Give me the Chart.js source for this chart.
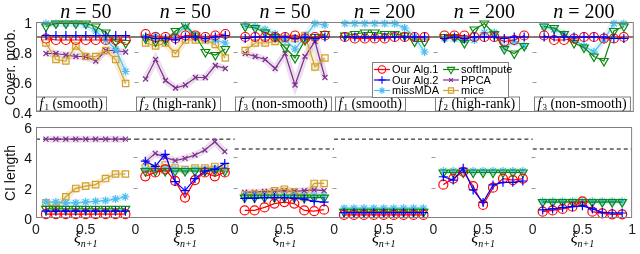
<!DOCTYPE html>
<html>
<head>
<meta charset="utf-8">
<script src="https://cdn.jsdelivr.net/npm/chart.js@4.4.1/dist/chart.umd.min.js"></script>
<style>
  body { margin: 0; background: #fff; width: 640px; height: 254px; overflow: hidden; position: relative; }
  canvas { position: absolute; left: 0; }
  #topChart { top: 0; }
  #botChart { top: 120px; }
  .ylab { position: absolute; font: 14px "Liberation Sans", Arial, sans-serif; color: #111; line-height: 16px; text-align: right; width: 30px; }
  .ytitle { position: absolute; font: 14px "Liberation Sans", Arial, sans-serif; color: #111; line-height: 16px; white-space: nowrap; transform: translate(-50%, -50%) rotate(-90deg); }
</style>
</head>
<body>
<canvas id="topChart" width="640" height="120"></canvas>
<canvas id="botChart" width="640" height="134"></canvas>
<script>
// ---- data ----
const xi = [0.1, 0.2, 0.3, 0.4, 0.5, 0.6, 0.7, 0.8, 0.9]
const sampleSizes = [50, 50, 50, 200, 200, 200]
const funcIndex = ['1', '2', '3', '1', '2', '3']
const funcNames = ['smooth', 'high-rank', 'non-smooth', 'smooth', 'high-rank', 'non-smooth']
const methodNames = ['Our Alg.1', 'Our Alg.2', 'missMDA', 'softImpute', 'PPCA', 'mice']
const nominal = 0.9
const coverTicks = [0.4, 0.6, 0.8, 1]
const lengthTicks = [0, 2, 4, 6]
const xTickLabels = ['0', '0.5', '0', '0.5', '0', '0.5', '0', '0.5', '0', '0.5', '0', '0.5', '1']

// coverage probability, one row per panel (PPCA and mice only for n = 50)
const coverAlg1 = [
  [0.89, 0.88, 0.88, 0.88, 0.88, 0.88, 0.88, 0.88, 0.88],
  [0.92, 0.90, 0.90, 0.89, 0.91, 0.91, 0.90, 0.91, 0.92],
  [0.90, 0.90, 0.90, 0.90, 0.90, 0.91, 0.89, 0.90, 0.91],
  [0.90, 0.89, 0.89, 0.89, 0.89, 0.90, 0.90, 0.90, 0.90],
  [0.91, 0.91, 0.91, 0.90, 0.90, 0.90, 0.87, 0.88, 0.91],
  [0.91, 0.88, 0.88, 0.89, 0.90, 0.90, 0.89, 0.89, 0.90]
]
const coverAlg2 = [
  [0.91, 0.91, 0.91, 0.91, 0.91, 0.91, 0.91, 0.91, 0.91],
  [0.90, 0.89, 0.89, 0.88, 0.90, 0.90, 0.89, 0.90, 0.91],
  [0.89, 0.90, 0.90, 0.90, 0.90, 0.89, 0.90, 0.89, 0.90],
  [0.90, 0.90, 0.90, 0.90, 0.90, 0.90, 0.90, 0.90, 0.90],
  [0.89, 0.90, 0.89, 0.90, 0.90, 0.90, 0.89, 0.90, 0.90],
  [0.90, 0.90, 0.90, 0.90, 0.90, 0.90, 0.90, 0.89, 0.89]
]
const coverMissMDA = [
  [0.99, 0.99, 0.99, 0.99, 0.98, 0.94, 0.88, 0.82, 0.67],
  [0.90, 0.91, 0.89, 0.91, 0.97, 0.90, 0.89, 0.88, 0.86],
  [0.98, 0.97, 0.95, 0.92, 0.88, 0.82, 0.90, 0.99, 0.98],
  [0.99, 0.99, 0.99, 0.99, 0.99, 0.99, 0.96, 0.90, 0.80],
  [0.89, 0.89, 0.88, 0.88, 0.93, 0.93, 0.83, 0.87, 0.84],
  [0.97, 0.95, 0.92, 0.88, 0.84, 0.80, 0.88, 0.99, 0.99]
]
const coverSoft = [
  [0.97, 0.99, 0.99, 0.99, 0.99, 0.97, 0.93, 0.87, 0.86],
  [0.89, 0.87, 0.88, 0.94, 0.98, 0.91, 0.80, 0.78, 0.82],
  [0.97, 0.96, 0.93, 0.90, 0.83, 0.76, 0.88, 0.90, 0.92],
  [0.91, 0.92, 0.93, 0.93, 0.92, 0.92, 0.91, 0.87, 0.87],
  [0.90, 0.90, 0.86, 0.95, 0.99, 0.92, 0.82, 0.79, 0.84],
  [0.97, 0.96, 0.92, 0.86, 0.83, 0.77, 0.74, 0.94, 0.97]
]
const coverPPCA = [
  [0.79, 0.79, 0.78, 0.77, 0.77, 0.74, 0.81, 0.81, 0.80],
  [0.62, 0.75, 0.61, 0.56, 0.58, 0.63, 0.63, 0.71, 0.69],
  [0.79, 0.77, 0.75, 0.69, 0.79, 0.58, 0.77, 0.87, 0.63]
]
const coverMice = [
  [0.86, 0.75, 0.74, 0.84, 0.77, 0.77, 0.81, 0.75, 0.59],
  [0.86, 0.84, 0.86, 0.79, 0.88, 0.88, 0.88, 0.85, 0.76],
  [0.81, 0.86, 0.86, 0.87, 0.89, 0.89, 0.91, 0.70, 0.76]
]

// CI length
const lenAlg1 = [
  [0.25, 0.25, 0.25, 0.25, 0.25, 0.25, 0.25, 0.25, 0.25],
  [2.75, 3.00, 3.20, 2.45, 1.35, 2.50, 3.00, 2.75, 3.00],
  [0.50, 0.50, 0.70, 0.95, 1.05, 0.95, 0.50, 0.45, 0.55],
  [0.20, 0.20, 0.20, 0.20, 0.20, 0.20, 0.20, 0.20, 0.20],
  [2.20, 2.60, 3.05, 2.10, 0.86, 2.00, 2.60, 2.50, 2.60],
  [0.42, 0.50, 0.60, 0.75, 1.10, 0.42, 0.30, 0.24, 0.24]
]
const lenAlg2 = [
  [0.45, 0.45, 0.45, 0.45, 0.45, 0.45, 0.45, 0.45, 0.45],
  [3.75, 3.40, 4.20, 2.40, 1.80, 2.60, 3.10, 3.20, 3.60],
  [1.30, 1.30, 1.35, 1.35, 1.35, 1.30, 1.25, 1.10, 1.05],
  [0.35, 0.35, 0.35, 0.35, 0.35, 0.35, 0.35, 0.35, 0.35],
  [2.72, 2.50, 3.28, 1.85, 1.03, 2.18, 2.35, 2.35, 2.44],
  [0.53, 0.60, 0.68, 0.75, 0.80, 0.60, 0.37, 0.33, 0.33]
]
const lenMissMDA = [
  [1.05, 1.05, 1.00, 1.00, 1.05, 1.10, 1.15, 1.25, 1.40],
  [3.20, 3.20, 3.25, 3.20, 3.15, 3.20, 3.20, 3.25, 3.20],
  [1.45, 1.45, 1.45, 1.45, 1.45, 1.45, 1.45, 1.45, 1.45],
  [0.65, 0.65, 0.65, 0.65, 0.65, 0.65, 0.65, 0.65, 0.65],
  [3.10, 3.10, 3.10, 3.10, 3.10, 3.10, 3.10, 3.10, 3.10],
  [1.10, 1.10, 1.10, 1.10, 1.10, 1.10, 1.10, 1.10, 1.10]
]
const lenSoft = [
  [0.60, 0.60, 0.60, 0.60, 0.60, 0.60, 0.60, 0.60, 0.60],
  [3.10, 3.10, 3.10, 3.10, 3.10, 3.10, 3.10, 3.10, 3.10],
  [1.35, 1.35, 1.35, 1.35, 1.35, 1.35, 1.35, 1.35, 1.35],
  [0.40, 0.40, 0.40, 0.40, 0.40, 0.40, 0.40, 0.40, 0.40],
  [3.00, 3.00, 3.00, 3.00, 3.00, 3.00, 3.00, 3.00, 3.00],
  [1.05, 1.05, 1.05, 1.05, 1.05, 1.05, 1.05, 1.05, 1.05]
]
const lenPPCA = [
  [5.20, 5.20, 5.20, 5.20, 5.20, 5.20, 5.20, 5.20, 5.20],
  [3.70, 4.26, 4.00, 3.78, 3.93, 4.15, 4.48, 5.03, 4.37],
  [1.70, 1.70, 1.75, 1.75, 1.80, 1.75, 1.80, 1.85, 1.80]
]
const lenMice = [
  [1.00, 0.65, 1.40, 1.95, 2.10, 2.20, 2.60, 2.90, 2.90],
  [3.30, 3.30, 3.50, 3.30, 3.20, 3.30, 3.30, 3.40, 3.30],
  [1.52, 1.58, 1.60, 1.80, 1.90, 1.73, 1.36, 2.28, 2.28]
]
// dashed reference length per panel
const dashRefs = [5.2, 5.2, 4.55, 5.2, 5.2, 4.55]

// ---- styles ----
const styles = {
  'Our Alg.1': { color: '#ff0000', point: 'circle', r: 4.5, rot: 0, order: 1 },
  'Our Alg.2': { color: '#0000ff', point: 'cross', r: 4.5, rot: 0, order: 0 },
  'missMDA': { color: '#4dbeee', point: 'star', r: 4, rot: 0, order: 3, band: 'rgba(77,190,238,0.18)' },
  'softImpute': { color: '#0b8a0b', point: 'triangle', r: 5, rot: 180, order: 2 },
  'PPCA': { color: '#7e2f8e', point: 'crossRot', r: 3.5, rot: 0, order: 5, band: 'rgba(126,47,142,0.15)' },
  'mice': { color: '#d4a02a', point: 'rect', r: 4.5, rot: 0, order: 4, band: 'rgba(212,160,42,0.18)' }
}
const sansFont = '"Liberation Sans", Arial, sans-serif'
const serifFont = '"Liberation Serif", "Times New Roman", serif'

function seriesData(panels) {
  const out = []
  panels.forEach((vals, p) => {
    vals.forEach((v, k) => out.push({ x: p + xi[k], y: v }))
    out.push({ x: p + 0.95, y: null })
  })
  return out
}

function buildDatasets(seriesList) {
  const sets = []
  seriesList.forEach((panels, i) => {
    const s = styles[methodNames[i]]
    const data = seriesData(panels)
    if (s.band) {
      sets.push({ data: data, borderColor: s.band, borderWidth: 7, pointRadius: 0, order: 10, clip: 10 })
    }
    sets.push({
      label: methodNames[i], data: data, borderColor: s.color, borderWidth: 1.2,
      pointStyle: s.point, pointRadius: s.r, pointRotation: s.rot,
      pointBorderColor: s.color, pointBackgroundColor: 'rgba(0,0,0,0)', pointBorderWidth: 1.2,
      order: s.order, clip: 10
    })
  })
  return sets
}

function drawMarker(ctx, s, x, y) {
  ctx.strokeStyle = s.color
  ctx.fillStyle = 'rgba(0,0,0,0)'
  ctx.lineWidth = 1.1
  Chart.helpers.drawPoint(ctx, { pointStyle: s.point, radius: s.r - 0.8, rotation: s.rot, borderWidth: 1.1 }, x, y)
}

// frame and inside ticks at panel joins
function drawFrame(chart, yTicks) {
  const { ctx, chartArea: a, scales: { x, y } } = chart
  ctx.save()
  ctx.strokeStyle = '#808080'
  ctx.lineWidth = 1
  ctx.strokeRect(a.left + 0.5, a.top + 0.5, a.right - a.left - 1, a.bottom - a.top - 1)
  ctx.strokeStyle = '#999'
  for (let p = 1; p < sampleSizes.length; p++) {
    const px = Math.round(x.getPixelForValue(p)) + 0.5
    yTicks.forEach(t => {
      const py = Math.round(y.getPixelForValue(t)) + 0.5
      if (py <= a.top + 2 || py >= a.bottom - 2) return
      ctx.beginPath(); ctx.moveTo(px - 2, py); ctx.lineTo(px + 2, py); ctx.stroke()
    })
  }
  ctx.restore()
}

// y tick labels and axis title as page text, placed with the chart's y scale
function addYAxisText(chart, offsetTop, yTicks, yTitle) {
  const a = chart.chartArea
  const y = chart.scales.y
  yTicks.forEach(t => {
    const d = document.createElement('div')
    d.className = 'ylab'
    d.textContent = String(t)
    d.style.left = (a.left - 34) + 'px'
    d.style.top = (offsetTop + y.getPixelForValue(t) - 7) + 'px'
    document.body.appendChild(d)
  })
  const ttl = document.createElement('div')
  ttl.className = 'ytitle'
  ttl.textContent = yTitle
  ttl.style.left = '10px'
  ttl.style.top = (offsetTop + (a.top + a.bottom) / 2) + 'px'
  document.body.appendChild(ttl)
}

const topDecor = {
  id: 'topDecor',
  afterDatasetsDraw(chart) {
    drawFrame(chart, coverTicks)
  },
  afterDraw(chart) {
    const { ctx, chartArea: a, scales: { x } } = chart
    ctx.save()
    ctx.fillStyle = '#000'
    ctx.textBaseline = 'alphabetic'
    // panel titles
    sampleSizes.forEach((n, p) => {
      const cx = x.getPixelForValue(p + 0.5)
      ctx.font = 'italic 20px ' + serifFont
      const w1 = ctx.measureText('n').width
      ctx.font = '20px ' + serifFont
      const rest = ' = ' + n
      const w2 = ctx.measureText(rest).width
      const left = cx - (w1 + w2) / 2
      ctx.font = 'italic 20px ' + serifFont
      ctx.textAlign = 'left'
      ctx.fillText('n', left, 18)
      ctx.font = '20px ' + serifFont
      ctx.fillText(rest, left + w1, 18)
    })
    // function boxes
    sampleSizes.forEach((n, p) => {
      const left = Math.round(x.getPixelForValue(p)) + 0.5
      ctx.font = 'italic 14px ' + serifFont
      const wf = ctx.measureText('f').width + 1
      ctx.font = '9px ' + serifFont
      const ws = ctx.measureText(funcIndex[p]).width
      ctx.font = '14px ' + serifFont
      const txt = ' (' + funcNames[p] + ')'
      const wt = ctx.measureText(txt).width
      const w = Math.round(wf + ws + wt + 7)
      ctx.fillStyle = '#fff'
      ctx.fillRect(left, a.bottom - 15, w, 14)
      ctx.strokeStyle = '#808080'
      ctx.lineWidth = 1
      ctx.strokeRect(left, a.bottom - 15, w, 14)
      ctx.fillStyle = '#000'
      ctx.textAlign = 'left'
      ctx.font = 'italic 14px ' + serifFont
      ctx.fillText('f', left + 3, a.bottom - 4)
      ctx.font = '9px ' + serifFont
      ctx.fillText(funcIndex[p], left + 3 + wf, a.bottom - 2)
      ctx.font = '14px ' + serifFont
      ctx.fillText(txt, left + 3 + wf + ws, a.bottom - 4)
    })
    // legend
    const lx = 372, ly = 62, lw = 136, lh = 35
    ctx.fillStyle = '#fff'
    ctx.fillRect(lx + 0.5, ly + 0.5, lw, lh)
    ctx.strokeStyle = '#808080'
    ctx.strokeRect(lx + 0.5, ly + 0.5, lw, lh)
    ctx.font = '11px ' + sansFont
    ctx.textBaseline = 'middle'
    methodNames.forEach((name, i) => {
      const col = Math.floor(i / 3), row = i % 3
      const x0 = lx + 2 + col * 69
      const y0 = ly + 7.5 + row * 10.5
      const s = styles[name]
      ctx.strokeStyle = s.color
      ctx.lineWidth = 1.2
      ctx.beginPath(); ctx.moveTo(x0, y0); ctx.lineTo(x0 + 16, y0); ctx.stroke()
      drawMarker(ctx, s, x0 + 8, y0)
      ctx.fillStyle = '#000'
      ctx.fillText(name, x0 + 18, y0 + 0.5)
    })
    ctx.restore()
  }
}

const botDecor = {
  id: 'botDecor',
  afterDatasetsDraw(chart) {
    drawFrame(chart, lengthTicks)
  },
  afterDraw(chart) {
    const { ctx, scales: { x } } = chart
    ctx.save()
    ctx.fillStyle = '#000'
    ctx.textBaseline = 'alphabetic'
    ctx.textAlign = 'left'
    sampleSizes.forEach((n, p) => {
      const cx = x.getPixelForValue(p + 0.5)
      ctx.font = 'italic 16px ' + serifFont
      const w1 = ctx.measureText('ξ').width
      ctx.font = 'italic 10px ' + serifFont
      const w2 = ctx.measureText('n+1').width
      const left = cx - (w1 + w2) / 2
      ctx.font = 'italic 16px ' + serifFont
      ctx.fillText('ξ', left, 123)
      ctx.font = 'italic 10px ' + serifFont
      ctx.fillText('n+1', left + w1, 127)
    })
    ctx.restore()
  }
}

// dashed reference lines per panel
const dashData = []
dashRefs.forEach((v, p) => {
  dashData.push({ x: p, y: v }, { x: p + 1, y: v }, { x: p + 1, y: null })
})

const tickFont = { family: sansFont, size: 14 }

const topChart = new Chart(document.getElementById('topChart'), {
  type: 'line',
  data: {
    datasets: [
      { data: [{ x: 0, y: nominal }, { x: sampleSizes.length, y: nominal }], borderColor: '#000', borderWidth: 1.2, pointRadius: 0, order: 6 },
      ...buildDatasets([coverAlg1, coverAlg2, coverMissMDA, coverSoft, coverPPCA, coverMice])
    ]
  },
  options: {
    responsive: false,
    animation: false,
    layout: { padding: { top: 22, right: 4, bottom: 8, left: 36 } },
    plugins: { legend: { display: false }, tooltip: { enabled: false } },
    scales: {
      x: { type: 'linear', min: 0, max: sampleSizes.length, display: false },
      y: { min: coverTicks[0], max: coverTicks[coverTicks.length - 1], display: false }
    }
  },
  plugins: [topDecor]
})

const botChart = new Chart(document.getElementById('botChart'), {
  type: 'line',
  data: {
    datasets: [
      { data: dashData, borderColor: '#000', borderWidth: 1, borderDash: [4, 3], pointRadius: 0, order: 6 },
      ...buildDatasets([lenAlg1, lenAlg2, lenMissMDA, lenSoft, lenPPCA, lenMice])
    ]
  },
  options: {
    responsive: false,
    animation: false,
    layout: { padding: { top: 7, right: 4, bottom: 0, left: 36 } },
    plugins: { legend: { display: false }, tooltip: { enabled: false } },
    scales: {
      x: {
        type: 'linear', min: 0, max: sampleSizes.length,
        afterFit: s => { s.height = 36 },
        afterBuildTicks: s => { s.ticks = xTickLabels.map((t, i) => ({ value: i * 0.5 })) },
        ticks: { font: tickFont, color: '#222', padding: 4, maxRotation: 0, autoSkip: false,
          callback: (v, i) => xTickLabels[i] },
        grid: { display: false, drawTicks: false },
        border: { display: false }
      },
      y: { min: lengthTicks[0], max: lengthTicks[lengthTicks.length - 1], display: false }
    }
  },
  plugins: [botDecor]
})

addYAxisText(topChart, 0, coverTicks, 'Cover. prob.')
addYAxisText(botChart, 120, lengthTicks, 'CI length')
</script>
</body>
</html>
